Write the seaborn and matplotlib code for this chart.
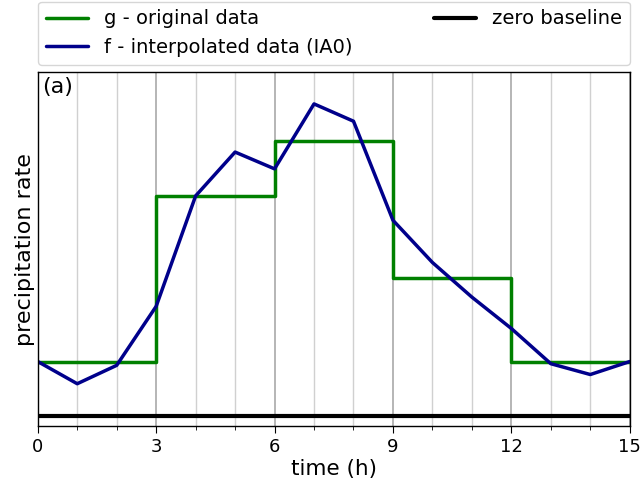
import matplotlib

matplotlib.use("Agg")

import matplotlib.pyplot as plt
import pandas as pd
import seaborn as sns
from matplotlib.ticker import MultipleLocator

# original data (block values, one per 3 h interval)
g_edges = [0, 3, 6, 9, 12, 15]
g_values = [1.0, 4.05, 5.08, 2.54, 1.0]

# interpolated data at every hour
f_hours = list(range(16))
f_values = [1.0, 0.59, 0.93, 2.02, 4.06, 4.87, 4.56, 5.76, 5.44,
            3.61, 2.83, 2.19, 1.61, 0.96, 0.76, 1.0]

baseline_x = [0, 15]
baseline_y = [0, 0]

sns.set_style("ticks")
plt.rcParams["font.family"] = ["DejaVu Sans"]
plt.rcParams["text.color"] = "black"
plt.rcParams["axes.labelcolor"] = "black"
plt.rcParams["xtick.color"] = "black"

fig = plt.figure(figsize=(6.4, 4.83), dpi=100)
ax = fig.add_axes([0.059, 0.117, 0.925, 0.734])

step_y = g_values + [g_values[-1]]
ax.step(g_edges, step_y, where="post", color="green", lw=2.5, label="g - original data")

f_df = pd.DataFrame({"time": f_hours, "rate": f_values})
sns.lineplot(data=f_df, x="time", y="rate", color="darkblue", lw=2.5,
             label="f - interpolated data (IA0)", ax=ax)
ax.plot(baseline_x, baseline_y, color="black", lw=3, label="zero baseline")

ax.set_xlim(0, 15)
ax.set_ylim(-0.2, 6.35)
ax.xaxis.set_major_locator(MultipleLocator(3))
ax.xaxis.set_minor_locator(MultipleLocator(1))
ax.set_yticks([])
ax.grid(which="major", axis="x", color="#b0b0b0", lw=1.3)
ax.grid(which="minor", axis="x", color="#d0d0d0", lw=1.0)
ax.tick_params(axis="x", which="major", labelsize=13, length=5)
ax.tick_params(axis="x", which="minor", length=3)
for s in ax.spines.values():
    s.set_color("black")
    s.set_linewidth(1.0)

ax.set_xlabel("time (h)", fontsize=15.5, labelpad=2)
ax.set_ylabel("precipitation rate", fontsize=16, labelpad=2)
ax.text(0.008, 0.985, "(a)", transform=ax.transAxes, fontsize=16, va="top", ha="left")

ax.legend(loc="lower left", bbox_to_anchor=(0.0, 1.02, 1.0, 0.2), mode="expand",
          ncol=2, fontsize=14, frameon=True, borderaxespad=0, handlelength=2.2,
          handletextpad=0.8)

fig.savefig("out.png", dpi=100, facecolor="white")
